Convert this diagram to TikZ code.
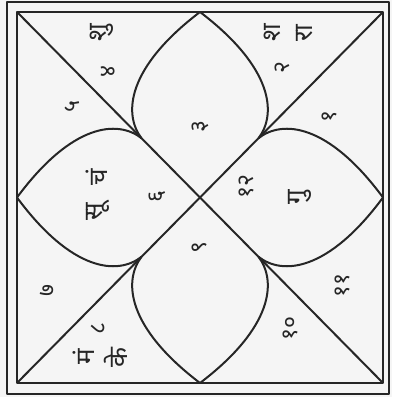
\documentclass[tikz,border=0pt]{standalone}
\usepackage{fontspec}
\newfontfamily\dev[Script=Devanagari]{Noto Sans}
\begin{document}
\begin{tikzpicture}[x=183pt,y=185.5pt,
  rule/.style={line width=2pt, draw=black!85, line join=round},
  num/.style={font=\dev\fontsize{23}{23}\selectfont, rotate=90, inner sep=0pt, text=black!85},
  planet/.style={font=\dev\fontsize{26}{26}\selectfont, rotate=90, inner sep=0pt, text=black!85}]
\fill[black!4] (-1.0929,-1.0755) rectangle (1.0492,1.0647);
\useasboundingbox (-1.0929,-1.0755) rectangle (1.0492,1.0647);
% frames
\draw[rule] (-1.0546,-1.0593) rectangle (1.0328,1.0539);
\draw[rule] (-1,-1) rectangle (1,1);
% key points
\coordinate (T) at (0,1);
\coordinate (B) at (0,-1);
\coordinate (L) at (-1,0);
\coordinate (R) at (1,0);
\coordinate (JTL) at (-0.32,0.32);
\coordinate (JTR) at (0.32,0.32);
\coordinate (JBL) at (-0.32,-0.32);
\coordinate (JBR) at (0.32,-0.32);
\coordinate (CTL) at (-1,1);
\coordinate (CTR) at (1,1);
\coordinate (CBL) at (-1,-1);
\coordinate (CBR) at (1,-1);
% diagonals
\draw[rule] (CTL) -- (CBR);
\draw[rule] (CBL) -- (CTR);
% petals
\draw[rule] (JTL) .. controls (-0.42,0.45) and (-0.4,0.7) .. (T)
                  .. controls (0.4,0.7) and (0.42,0.45) .. (JTR);
\draw[rule] (JBL) .. controls (-0.42,-0.45) and (-0.4,-0.7) .. (B)
                  .. controls (0.4,-0.7) and (0.42,-0.45) .. (JBR);
\draw[rule] (JTL) .. controls (-0.45,0.42) and (-0.7,0.4) .. (L)
                  .. controls (-0.7,-0.4) and (-0.45,-0.42) .. (JBL);
\draw[rule] (JTR) .. controls (0.45,0.42) and (0.7,0.4) .. (R)
                  .. controls (0.7,-0.4) and (0.45,-0.42) .. (JBR);
% house numbers
\node[num] (h3) at (0,0.38) {३};
\node[num] (h4) at (-0.503,0.677) {४};
\node[num] (h5) at (-0.70,0.488) {५};
\node[num] (h6) at (-0.235,0.003) {६};
\node[num] (h7) at (-0.836,-0.499) {७};
\node[num] (h8) at (-0.557,-0.704) {८};
\node[num] (h9) at (0,-0.267) {९};
\node[num] (h10) at (0.492,-0.704) {१०};
\node[num] (h11) at (0.781,-0.472) {११};
\node[num] (h12) at (0.257,0.057) {१२};
\node[num] (h1) at (0.71,0.434) {१};
\node[num] (h2) at (0.448,0.698) {२};
% planets
\node[planet] (p1) at (-0.536,0.887) {शु};
\node[planet] (p2) at (0.393,0.887) {श};
\node[planet] (p3) at (0.574,0.887) {रा};
\node[planet] (p4) at (-0.563,0.11) {चं};
\node[planet] (p5) at (-0.557,-0.078) {सू};
\node[planet] (p6) at (0.546,0) {गु};
\node[planet] (p7) at (-0.634,-0.86) {मं};
\node[planet] (p8) at (-0.459,-0.86) {के};
\end{tikzpicture}
\end{document}
